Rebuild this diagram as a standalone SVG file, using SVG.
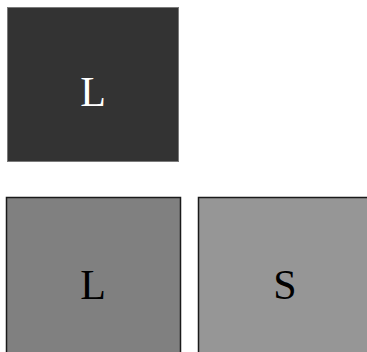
<svg xmlns="http://www.w3.org/2000/svg" width="367" height="352" viewBox="0 0 367 352">
<style>
.lbl{font-family:"Liberation Serif","Times New Roman",serif;font-size:42px;text-anchor:middle}
.b{stroke:#1a1a1a;stroke-width:1.5}
</style>
<rect width="367" height="352" fill="#ffffff"/>
<g id="node-top">
<rect x="7.5" y="7.5" width="171" height="154" fill="#333333" stroke="#7a7a7a" stroke-width="1"/>
<text class="lbl" x="93" y="106" fill="#ffffff">L</text>
</g>
<g id="node-bottom-left">
<rect class="b" x="6.5" y="197.5" width="174" height="160" fill="#808080"/>
<text class="lbl" x="93" y="298.5" fill="#000000">L</text>
</g>
<g id="node-bottom-right">
<rect class="b" x="198.5" y="197.5" width="174" height="160" fill="#969696"/>
<text class="lbl" x="285" y="298.5" fill="#000000">S</text>
</g>
<g id="connectors"/>
</svg>
